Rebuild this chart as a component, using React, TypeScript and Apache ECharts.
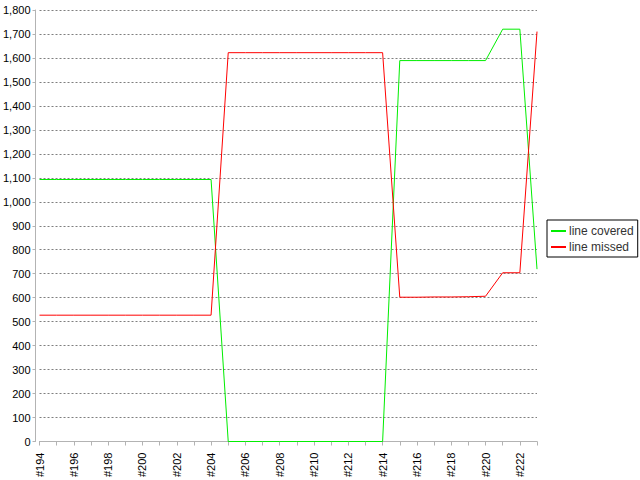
import React, { useEffect, useRef } from "react";
import * as echarts from "echarts";

const categories: string[] = [];
for (let i = 194; i <= 223; i++) categories.push("#" + i);

const covered = [
  1093, 1093, 1093, 1093, 1093, 1093, 1093, 1093, 1093, 1093, 1093,
  0, 0, 0, 0, 0, 0, 0, 0, 0, 0,
  1589, 1589, 1589, 1589, 1589, 1589,
  1720, 1720, 719,
];
const missed = [
  527, 527, 527, 527, 527, 527, 527, 527, 527, 527, 527,
  1622, 1622, 1622, 1622, 1622, 1622, 1622, 1622, 1622, 1622,
  602, 602, 603, 603, 604, 606,
  704, 704, 1710,
];

const seriesNames = ["line covered", "line missed"];

export default function App() {
  const ref = useRef<HTMLDivElement>(null);
  useEffect(() => {
    if (!ref.current) return;
    const chart = echarts.init(ref.current, undefined, { renderer: "svg" });
    const font = "'Liberation Sans', Arial, sans-serif";
    chart.setOption({
      animation: false,
      backgroundColor: "#ffffff",
      textStyle: { fontFamily: font },
      grid: { left: 39, right: 103, top: 10, bottom: 37, containLabel: false },
      legend: {
        orient: "vertical",
        left: 547,
        top: 220,
        width: 91,
        padding: [5, 4, 4, 4],
        itemGap: 4,
        itemWidth: 15,
        itemHeight: 2,
        borderColor: "#000",
        borderWidth: 1,
        borderRadius: 0,
        data: seriesNames.map((n) => ({ name: n, icon: "rect" })),
        textStyle: { fontSize: 12, color: "#333", fontFamily: font, padding: [0, 0, 0, -2] },
      },
      xAxis: {
        type: "category",
        data: categories,
        boundaryGap: false,
        offset: 5,
        axisLine: { lineStyle: { color: "#b3b3b3", width: 1 } },
        axisTick: { show: true, interval: 0, length: 4, lineStyle: { color: "#b3b3b3" } },
        axisLabel: {
          interval: 1,
          rotate: 90,
          fontSize: 11,
          color: "#000",
          fontFamily: font,
          margin: 6,
        },
        splitLine: { show: false },
      },
      yAxis: {
        type: "value",
        min: 0,
        max: 1800,
        interval: 100,
        offset: 4,
        axisLine: { show: true, lineStyle: { color: "#b3b3b3", width: 1 } },
        axisTick: { show: true, length: 3, lineStyle: { color: "#b3b3b3" } },
        axisLabel: {
          fontSize: 11,
          color: "#000",
          fontFamily: font,
          margin: 5,
          formatter: (v: number) => v.toLocaleString("en-US"),
        },
        splitLine: { show: true, lineStyle: { color: "#7f7f7f", type: [2, 2], width: 1 } },
      },
      series: [
        {
          name: seriesNames[0],
          type: "line",
          data: covered,
          showSymbol: false,
          symbol: "none",
          lineStyle: { color: "#00ee00", width: 1 },
          itemStyle: { color: "#00ee00" },
        },
        {
          name: seriesNames[1],
          type: "line",
          data: missed,
          showSymbol: false,
          symbol: "none",
          lineStyle: { color: "#ff0000", width: 1 },
          itemStyle: { color: "#ff0000" },
        },
      ],
    });
    return () => chart.dispose();
  }, []);
  return <div ref={ref} style={{ width: 640, height: 480, position: "absolute", left: 0, top: 0 }} />;
}
